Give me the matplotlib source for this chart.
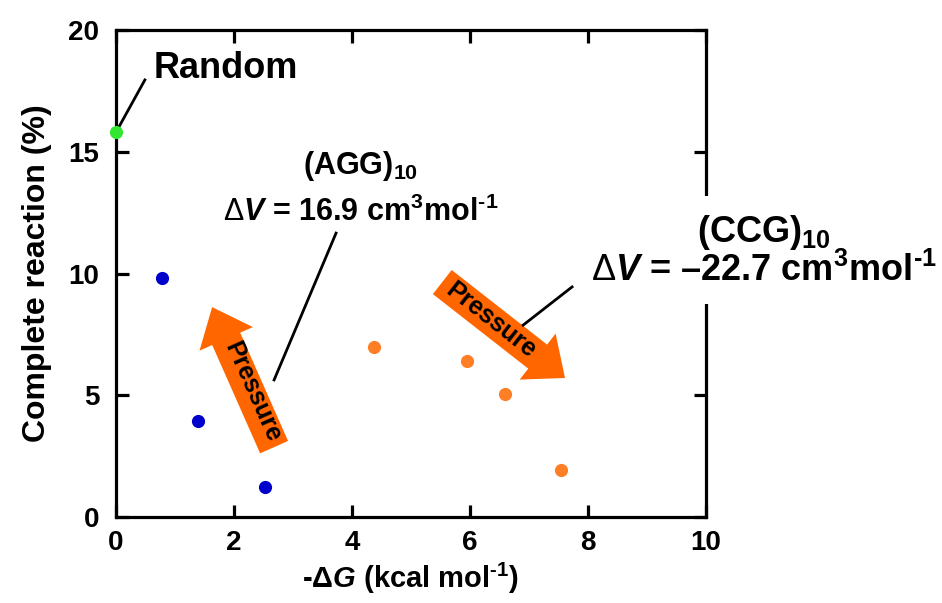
import matplotlib
matplotlib.use("Agg")
import matplotlib.pyplot as plt

plt.rcParams['font.family'] = ['Liberation Sans', 'DejaVu Sans']
plt.rcParams['font.weight'] = 'bold'
plt.rcParams['mathtext.fontset'] = 'custom'
plt.rcParams['mathtext.rm'] = 'Liberation Sans:bold'
plt.rcParams['mathtext.sf'] = 'Liberation Sans:normal'
plt.rcParams['mathtext.it'] = 'Liberation Sans:italic:bold'
plt.rcParams['mathtext.bf'] = 'Liberation Sans:bold'

# data
random_dg = [0.0]
random_yield = [15.8]
agg_dg = [0.78, 1.39, 2.53]
agg_yield = [9.8, 3.95, 1.25]
ccg_dg = [4.38, 5.95, 6.59, 7.55]
ccg_yield = [7.0, 6.4, 5.05, 1.95]

xticks = [0, 2, 4, 6, 8, 10]
yticks = [0, 5, 10, 15, 20]

dv_unit = r' cm$^{\mathrm{3}}$mol$^{\text{-1}}$'

fig = plt.figure(figsize=(9.42, 6.03), dpi=100)
ax = fig.add_axes([0.1231, 0.1426, 0.6264, 0.8076])

ax.plot(agg_dg, agg_yield, 'o', color='#0000cc', ms=9.5, mec='none', zorder=4)
ax.plot(ccg_dg, ccg_yield, 'o', color='#ff7f27', ms=9.5, mec='none', zorder=4)
ax.plot(random_dg, random_yield, 'o', color='#33e633', ms=9.5, mec='none',
        zorder=5, clip_on=False)

ax.set_xlim(0, 10)
ax.set_ylim(0, 20)
ax.set_xticks(xticks)
ax.set_yticks(yticks)
for sp in ax.spines.values():
    sp.set_linewidth(2.3)
ax.tick_params(direction='in', top=True, right=True, length=9, width=2.3,
               labelsize=20, pad=9)
ax.tick_params(axis='y', pad=12)

ax.set_xlabel(r'-Δ$\mathit{G}$ (kcal mol$^{\text{-1}}$)', fontsize=21,
              fontweight='bold', labelpad=4)
ax.set_ylabel('Complete reaction (%)', fontsize=23, fontweight='bold',
              labelpad=12)

# labels and leader lines
ax.text(0.63, 18.4, 'Random', fontsize=26, fontweight='bold', va='center')
ax.plot([0.49, 0.0], [17.95, 15.8], color='black', lw=2, clip_on=False, zorder=4)

ax.text(4.14, 13.5,
        '(AGG)$_{10}$\n' + r'$\mathsf{\Delta}\mathit{V}$ = 16.9' + dv_unit,
        fontsize=22, fontweight='bold', ha='center', va='center',
        multialignment='center', linespacing=1.55)
ax.plot([3.73, 2.68], [11.66, 5.63], color='black', lw=2, zorder=4)

ax.text(10.98, 10.92,
        '(CCG)$_{10}$\n' + r'$\mathsf{\Delta}\mathit{V}$ = –22.7' + dv_unit,
        fontsize=26, fontweight='bold', ha='center', va='center',
        multialignment='center', linespacing=1.05, zorder=6,
        bbox=dict(boxstyle='square,pad=0.4', fc='white', ec='none'))
ax.plot([7.73, 6.90], [9.45, 7.88], color='black', lw=2, zorder=4)

# pressure arrows
arrow_props = dict(arrowstyle='simple,head_length=25,head_width=42,tail_width=22',
                   mutation_scale=1, fc='#ff6600', ec='none',
                   shrinkA=0, shrinkB=0)
ax.annotate('', xy=(1.63, 8.62), xytext=(2.68, 2.87), arrowprops=arrow_props)
ax.annotate('', xy=(7.61, 5.71), xytext=(5.53, 9.65), arrowprops=arrow_props)
ax.text(2.31, 5.13, 'Pressure', fontsize=18, fontweight='bold', rotation=-66,
        rotation_mode='anchor', ha='center', va='center', zorder=5)
ax.text(6.36, 8.09, 'Pressure', fontsize=18, fontweight='bold', rotation=-38,
        rotation_mode='anchor', ha='center', va='center', zorder=5)

fig.savefig('out.png', dpi=100)
